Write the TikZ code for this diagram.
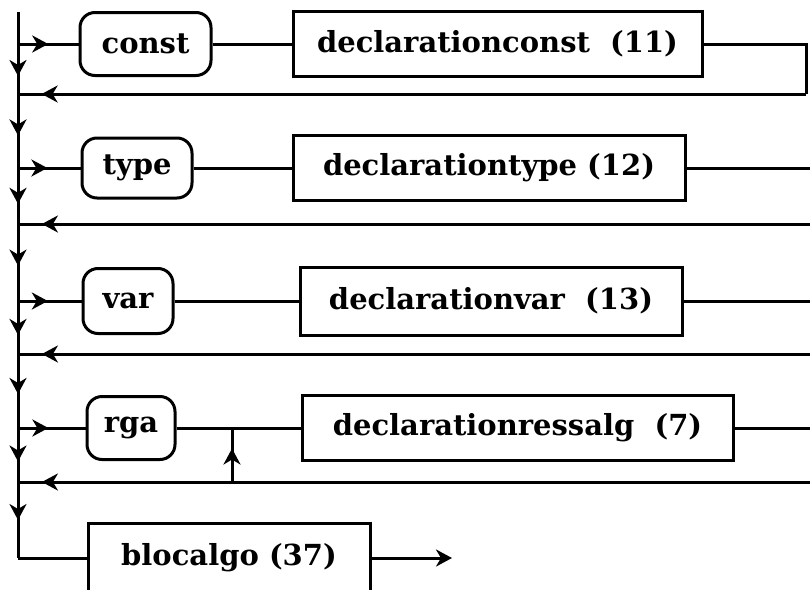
\documentclass[tikz,border=0pt]{standalone}
\usepackage{fontspec}
\setmainfont{DejaVu Serif}
\usetikzlibrary{arrows.meta,decorations.markings}
\begin{document}
\begin{tikzpicture}[x=1pt,y=-1pt,
  line width=3pt,
  bigtip/.tip={Stealth[length=16pt,width=17pt,inset=5pt]},
  lbl/.style={font=\fontsize{29}{29}\bfseries\selectfont},
  term/.style={draw, rounded corners=15pt, inner sep=0pt, lbl},
  nterm/.style={draw, rectangle, inner sep=0pt, lbl},
  arrat/.style={postaction={decorate}, decoration={markings, mark=at position #1 with {\arrow{bigtip}}}}]
\useasboundingbox (0,0) rectangle (810,589);
\clip (0,0) rectangle (810,589);
% spine coordinates
\coordinate (s0) at (18,12);
\coordinate (e1) at (18,44);
\coordinate (r1) at (18,94);
\coordinate (e2) at (18,168);
\coordinate (r2) at (18,224);
\coordinate (e3) at (18,301);
\coordinate (r3) at (18,354);
\coordinate (e4) at (18,428);
\coordinate (r4) at (18,482);
\coordinate (b)  at (18,558);
% right ends
\coordinate (c1a) at (806,44);
\coordinate (c1b) at (806,94);
\coordinate (c2a) at (815,168);
\coordinate (c2b) at (815,224);
\coordinate (c3a) at (815,301);
\coordinate (c3b) at (815,354);
\coordinate (c4a) at (815,428);
\coordinate (c4b) at (815,482);
\coordinate (j)  at (232,428);
\coordinate (jb) at (232,482);
\coordinate (out) at (452,558);
% nodes
\node[term, minimum width=131, minimum height=63] (const) at (145.5,44) {const};
\node[nterm, minimum width=409, minimum height=65] (dc) at (497.5,44) {declarationconst\ \ (11)};
\node[term, minimum width=110, minimum height=60] (type) at (137,168) {type};
\node[nterm, minimum width=392, minimum height=65] (dt) at (489,168) {declarationtype (12)};
\node[term, minimum width=90, minimum height=65] (var) at (128,301) {var};
\node[nterm, minimum width=382, minimum height=68] (dv) at (491,301) {declarationvar\ \ (13)};
\node[term, minimum width=88, minimum height=63] (rga) at (131,428) {rga};
\node[nterm, minimum width=431, minimum height=65] (dr) at (517.5,428) {declarationressalg\ \ (7)};
\node[nterm, minimum width=282, minimum height=70] (bl) at (229,558) {blocalgo (37)};
% spine
\draw (s0) -- (e1);
\draw[arrat=0.64] (e1) -- (r1);
\draw[arrat=0.56] (r1) -- (e2);
\draw[arrat=0.64] (e2) -- (r2);
\draw[arrat=0.54] (r2) -- (e3);
\draw[arrat=0.64] (e3) -- (r3);
\draw[arrat=0.54] (r3) -- (e4);
\draw[arrat=0.62] (e4) -- (r4);
\draw[arrat=0.5] (r4) -- (b);
\draw (b) -- (bl.west);
\draw[-bigtip] (bl.east) -- (out);
% entries
\draw[arrat=0.5] (e1) -- (const.west);
\draw[arrat=0.47] (e2) -- (type.west);
\draw[arrat=0.47] (e3) -- (var.west);
\draw[arrat=0.45] (e4) -- (rga.west);
\draw (const.east) -- (dc.west);
\draw (type.east) -- (dt.west);
\draw (var.east) -- (dv.west);
\draw (rga.east) -- (dr.west);
% exits and returns
\draw (dc.east) -- (c1a) -- (c1b);
\draw[arrat=0.97] (c1b) -- (r1);
\draw (dt.east) -- (c2a);
\draw[arrat=0.97] (c2b) -- (r2);
\draw (dv.east) -- (c3a);
\draw[arrat=0.97] (c3b) -- (r3);
\draw (dr.east) -- (c4a);
\draw[arrat=0.97] (c4b) -- (r4);
\draw[arrat=0.62] (jb) -- (j);
\end{tikzpicture}
\end{document}
